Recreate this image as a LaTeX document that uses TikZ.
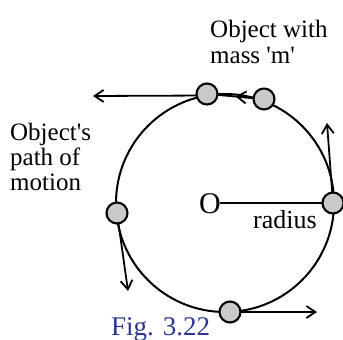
\documentclass[tikz,border=0pt]{standalone}
\usepackage{fontspec}
\setmainfont{Liberation Serif}
\usetikzlibrary{arrows.meta,calc}
\definecolor{ballgray}{RGB}{200,201,203}
\definecolor{figblue}{RGB}{46,52,146}
\tikzset{
  ball/.style={circle,draw=black,fill=ballgray,line width=2.1pt,minimum size=21pt,inner sep=0pt},
  arr/.style={line width=1.8pt,-{Straight Barb[length=9pt,width=12pt,line width=1.8pt]}},
  lbl/.style={anchor=base west,inner sep=0pt,font=\fontsize{25}{26}\selectfont,align=left},
}
\begin{document}
\begin{tikzpicture}[x=1pt,y=-1pt]
\useasboundingbox (0,0) rectangle (343,340);
\coordinate (c) at (225,203);
\coordinate (tl) at (207,94);
\coordinate (tr) at (264,99);
\coordinate (r) at (333,203);
\coordinate (l) at (117,213);
\coordinate (b) at (230,312);
\coordinate (t1) at (93,96);
\coordinate (t3) at (327,123);
\coordinate (t4) at (128,291);
\coordinate (t5) at (317,312);
\draw[line width=2pt] (c) circle[radius=109pt];
\draw[line width=1.8pt] (220,203) -- (r);
\draw[arr] ($(tl)+(0,1.5)$) -- (t1);
\draw[line width=1.8pt] (tr) -- (tl);
\draw[arr] (tr) -- ($(tr)!0.5!(tl)$);
\draw[arr] (r) -- (t3);
\draw[arr] (l) -- (t4);
\draw[arr] (b) -- (t5);
\node[ball] (ntl) at (tl) {};
\node[ball] (ntr) at (tr) {};
\node[ball] (nr) at (r) {};
\node[ball] (nl) at (l) {};
\node[ball] (nb) at (b) {};
\node[lbl] (m1) at (210,37) {Object with};
\node[lbl] (m2) at (210,63) {mass \textquotesingle m\textquotesingle};
\node[lbl] (p1) at (10,140) {Object\textquotesingle s};
\node[lbl] (p2) at (10,165) {path of};
\node[lbl] (p3) at (10,190) {motion};
\node[anchor=base west,inner sep=0pt,font=\fontsize{30}{30}\selectfont] (o) at (199,213) {O};
\node[anchor=base west,inner sep=0pt,font=\fontsize{26}{26}\selectfont] (rad) at (253,228) {radius};
\node[anchor=base west,inner sep=0pt,text=figblue,font=\fontsize{27}{27}\selectfont] (fig) at (111,335) {Fig. 3.22};
\end{tikzpicture}
\end{document}
